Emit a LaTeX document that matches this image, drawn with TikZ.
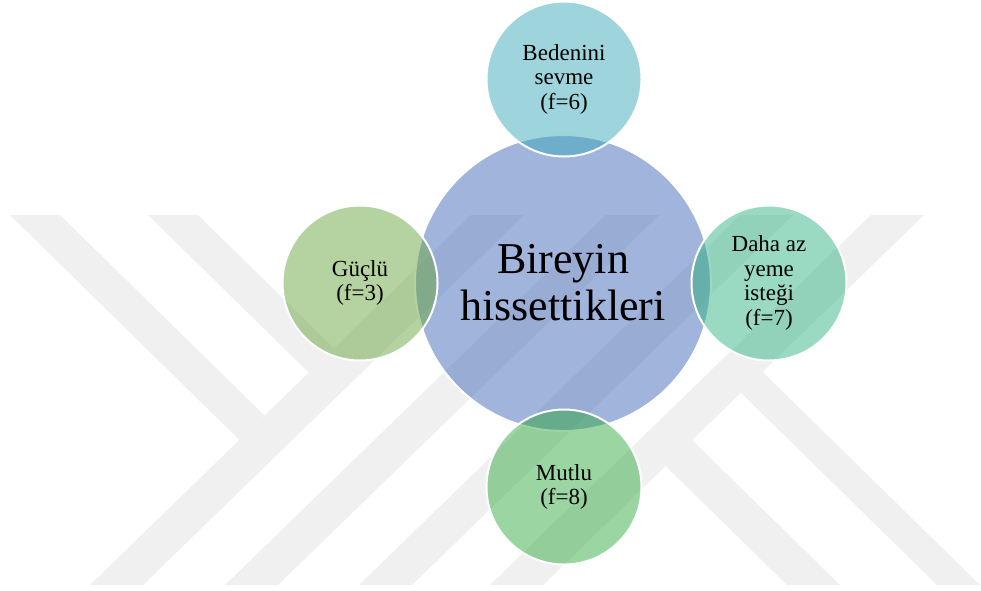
\documentclass[tikz,border=0pt]{standalone}
\usepackage{fontspec}
\setmainfont{Liberation Serif}
\definecolor{yokgri}{RGB}{240,240,240}
\definecolor{merkezrenk}{RGB}{65,105,185}
\definecolor{usturenk}{RGB}{61,169,185}
\definecolor{sagrenk}{RGB}{53,181,133}
\definecolor{solrenk}{RGB}{107,167,65}
\definecolor{altrenk}{RGB}{53,171,69}
\tikzset{
	yokband/.style={fill=yokgri},
	daire/.style={circle,draw=white,line width=2pt,fill opacity=0.5,text opacity=1,inner sep=0pt,align=center},
	kucuk/.style={daire,minimum size=155pt,font=\fontsize{23}{24.5}\selectfont}
}
\begin{document}
\begin{tikzpicture}[x=1pt,y=-1pt]
		\useasboundingbox (0,0) rectangle (981,590);
		\foreach \b in {90,225,359,490}
			\fill[yokband] (\b,585) -- ++(53,0) -- ++(381,-370) -- ++(-53,0) -- cycle;
		\fill[yokband] (10,215) -- (60,215) -- (264.5,415.5) -- (239.4,439.9) -- cycle;
		\fill[yokband] (148,215) -- (198,215) -- (333.9,348.2) -- (308.8,372.6) -- cycle;
		\fill[yokband] (787,585) -- (840,585) -- (692.2,440.1) -- (665.6,466) -- cycle;
		\fill[yokband] (937,585) -- (980,585) -- (762.5,371.8) -- (741,392.8) -- cycle;
		\node[daire,fill=merkezrenk,minimum size=296pt,font=\fontsize{44}{47}\selectfont] (merkez) at (563,283) {Bireyin\\hissettikleri};
		\node[kucuk,fill=usturenk] (beden) at (564,79) {Bedenini\\sevme\\(f=6)};
		\node[kucuk,fill=sagrenk] (yeme) at (769,283) {Daha az\\yeme\\isteği\\(f=7)};
		\node[kucuk,fill=solrenk] (guclu) at (360,283) {Güçlü\\(f=3)};
		\node[kucuk,fill=altrenk] (mutlu) at (564,487) {Mutlu\\(f=8)};
	\end{tikzpicture}
\end{document}
